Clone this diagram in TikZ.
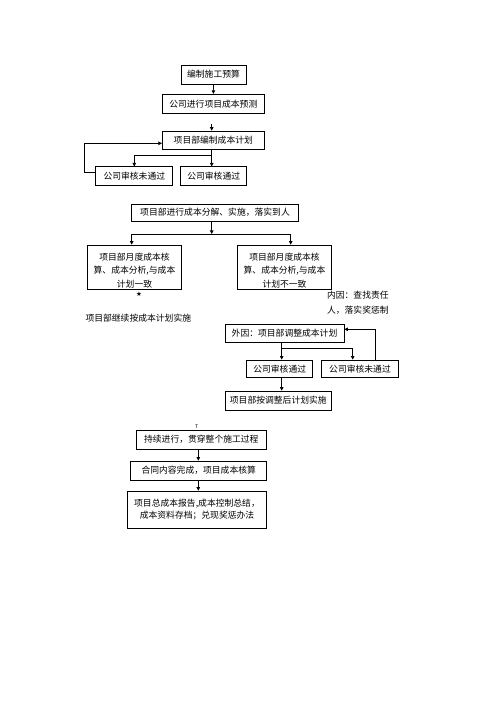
\documentclass[tikz,border=0pt]{standalone}
\usepackage{fontspec}
\setmainfont{Noto Sans CJK SC}
\newfontfamily\symfont{DejaVu Sans}
\usetikzlibrary{arrows.meta}
\begin{document}
\begin{tikzpicture}[x=1pt,y=-1pt,line width=0.7pt,
    box/.style={draw,inner sep=0pt,minimum height=19pt,font=\fontsize{8.8pt}{12pt}\selectfont},
    txt/.style={inner sep=0pt,font=\fontsize{8.8pt}{13.5pt}\selectfont},
    arr/.style={-{Triangle[length=3.5pt,width=3.5pt]}}]
    \useasboundingbox (0,0) rectangle (500,708);
    % top chain
    \node[box,minimum width=65pt] (yusuan) at (213.5,74.5) {编制施工预算};
    \node[box,minimum width=102pt] (yuce) at (213.3,103.7) {公司进行项目成本预测};
    \node[box,minimum width=102pt,minimum height=18pt] (jihua) at (213.3,140) {项目部编制成本计划};
    \node[box,minimum width=77pt] (weitg) at (134.3,176.3) {公司审核未通过};
    \node[box,minimum width=66pt] (tongguo) at (213.7,176.3) {公司审核通过};
    \draw[arr] (yusuan) -- (yuce);
    \coordinate (tip) at (211.7,124);
    \draw[arr] (tip) -- (tip |- jihua.north);
    \coordinate (fa) at (211.7,155);
    \coordinate (fb) at (134.3,155);
    \draw (jihua.south -| fa) -- (fa) -- (fb);
    \draw[arr] (fb) -- (weitg.north);
    \draw[arr] (fa) -- (tongguo.north -| fa);
    \coordinate (la) at (84,172);
    \coordinate (lb) at (84,143.3);
    \draw[arr] (weitg.west |- la) -- (la) -- (lb) -- (jihua.west |- lb);
    % decomposition
    \node[box,minimum width=166.6pt,minimum height=17pt] (fenjie) at (215,212.7) {项目部进行成本分解、实施，落实到人};
    \node[box,minimum width=94pt,minimum height=44pt] (yizhi) at (134.5,267) {};
    \node[txt,align=center] (yizhit) at (134.5,270.5) {项目部月度成本核\\算、成本分析,与成本\\计划一致};
    \node[box,minimum width=94pt,minimum height=44pt] (buyizhi) at (284.5,267) {};
    \node[txt,align=center] (buyizhit) at (284.5,270.5) {项目部月度成本核\\算、成本分析,与成本\\计划不一致};
    \coordinate (sm) at (211.7,234);
    \coordinate (sl) at (131.7,234);
    \coordinate (sr) at (290.7,234);
    \draw[arr] (fenjie.south -| sm) -- (sm);
    \draw (sl) -- (sr);
    \draw[arr] (sl) -- (sl |- yizhi.north);
    \draw[arr] (sr) -- (sr |- buyizhi.north);
    \node[inner sep=0pt,font=\symfont\fontsize{6.5pt}{6.5pt}\selectfont] (star) at (139,294.5) {★};
    \node[txt] (jixu) at (138.3,317.7) {项目部继续按成本计划实施};
    \node[txt,align=left,anchor=west,font=\fontsize{8.8pt}{15pt}\selectfont] (neiyin) at (326.7,302.5) {内因：查找责任\\人，落实奖惩制};
    % adjustment
    \node[box,minimum width=119pt,minimum height=18pt] (waiyin) at (284.5,333.3) {外因：项目部调整成本计划};
    \node[box,minimum width=66pt,minimum height=17.7pt] (tg2) at (279.7,368.8) {公司审核通过};
    \node[box,minimum width=76.6pt,minimum height=17.7pt] (wtg2) at (360,368.8) {公司审核未通过};
    \node[box,minimum width=106.7pt] (tiaozheng) at (278.3,400.5) {项目部按调整后计划实施};
    \coordinate (ga) at (281.7,348.3);
    \coordinate (gb) at (352.7,348.3);
    \draw (waiyin.south -| ga) -- (ga) -- (gb);
    \draw[arr] (ga) -- (tg2.north -| ga);
    \draw[arr] (gb) -- (wtg2.north -| gb);
    \coordinate (ra) at (375,329.3);
    \draw[arr] (wtg2.north -| ra) -- (ra) -- (waiyin.east |- ra);
    \draw[arr] (tg2.south -| ga) -- (tiaozheng.north -| ga);
    % final chain
    \node[inner sep=0pt,font=\fontsize{5pt}{5pt}\selectfont] (tmark) at (196.7,426.7) {T};
    \node[box,minimum width=130.7pt] (chixu) at (201.3,439.5) {持续进行，贯穿整个施工过程};
    \node[box,minimum width=136pt] (hetong) at (198.7,470.5) {合同内容完成，项目成本核算};
    \node[box,minimum width=139.4pt,minimum height=37.3pt,align=center] (baogao) at (197,509.7) {项目总成本报告,成本控制总结，\\成本资料存档；兑现奖惩办法};
    \coordinate (ca) at (198.3,449);
    \draw[arr] (chixu.south -| ca) -- (hetong.north -| ca);
    \draw[arr] (hetong.south -| ca) -- (baogao.north -| ca);
\end{tikzpicture}
\end{document}
